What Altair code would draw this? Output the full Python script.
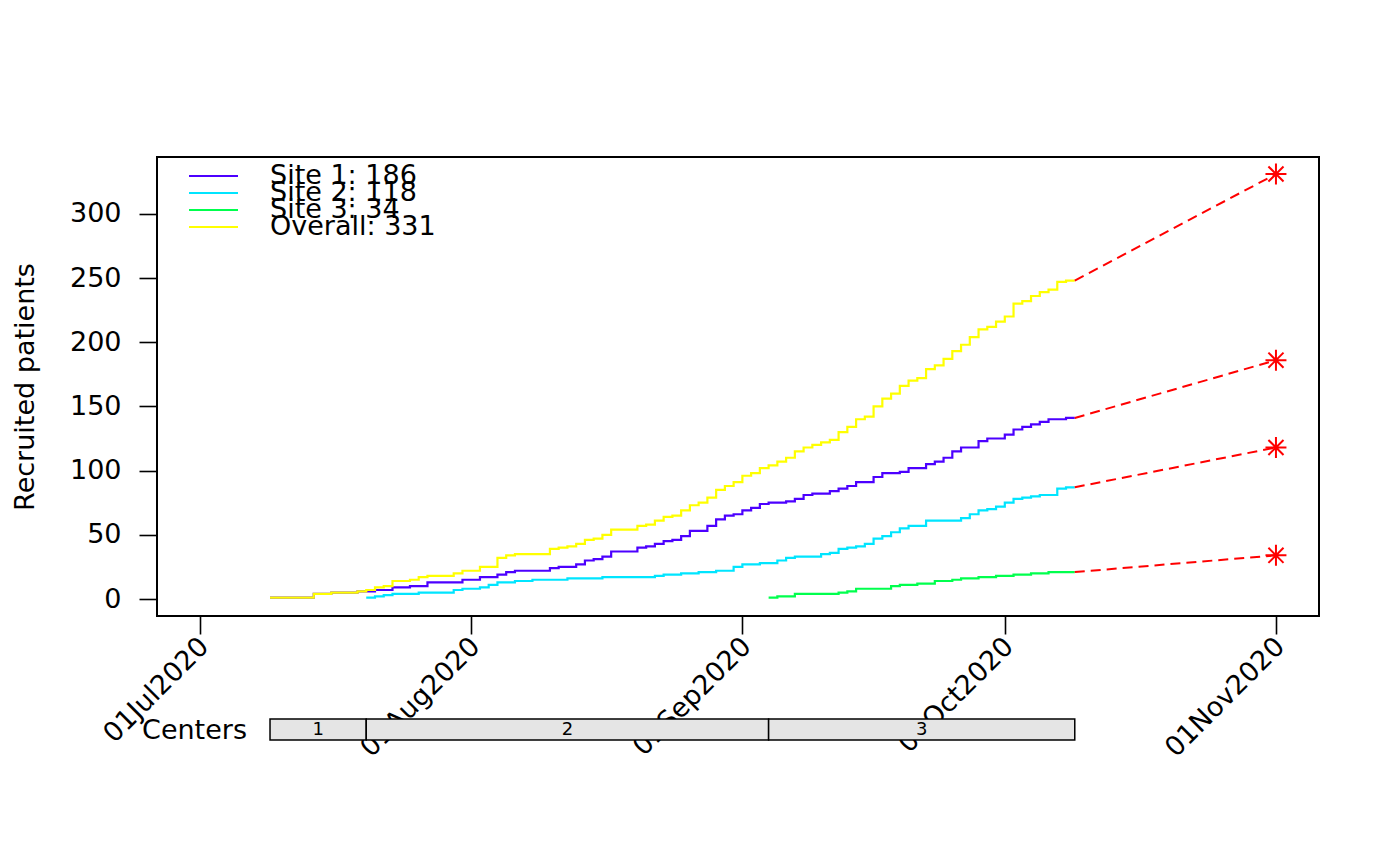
import altair as alt
import pandas as pd

FONT = "DejaVu Sans"

series_labels = ["Site 1: 186", "Site 2: 118", "Site 3: 34", "Overall: 331"]
series_colors = ["#4C00FF", "#00E5FF", "#00FF4D", "#FFFF00"]
end_day = "10-09"
pred_day = "11-01"
pred_counts = [186, 118, 34, 331]

site1_days = ["07-09", "07-14", "07-16", "07-19", "07-21", "07-23", "07-25", "07-27", "07-31",
              "08-02", "08-04", "08-05", "08-06", "08-10", "08-11", "08-13", "08-14", "08-15",
              "08-16", "08-17", "08-20", "08-21", "08-22", "08-23", "08-24", "08-25", "08-26",
              "08-28", "08-29", "08-30", "08-31", "09-01", "09-02", "09-03", "09-04", "09-06",
              "09-07", "09-08", "09-09", "09-11", "09-12", "09-13", "09-14", "09-16", "09-17",
              "09-19", "09-20", "09-22", "09-23", "09-24", "09-25", "09-26", "09-28", "09-29",
              "10-01", "10-02", "10-03", "10-04", "10-05", "10-06", "10-08"]
site1_counts = [1, 4, 5, 6, 7, 9, 10, 13, 15,
                17, 19, 21, 22, 24, 25, 27, 30, 31,
                33, 37, 40, 41, 43, 45, 46, 49, 53,
                57, 62, 65, 66, 69, 71, 74, 75, 76,
                78, 81, 82, 84, 86, 88, 91, 95, 98,
                99, 102, 105, 107, 110, 115, 118, 123, 125,
                128, 132, 134, 136, 138, 140, 141]

site2_days = ["07-20", "07-21", "07-22", "07-23", "07-26", "07-30", "07-31", "08-02", "08-03",
              "08-04", "08-06", "08-08", "08-12", "08-16", "08-22", "08-23", "08-25", "08-27",
              "08-29", "08-31", "09-01", "09-03", "09-05", "09-06", "09-07", "09-10", "09-11",
              "09-12", "09-13", "09-14", "09-15", "09-16", "09-17", "09-18", "09-19", "09-20",
              "09-22", "09-26", "09-27", "09-28", "09-29", "09-30", "10-01", "10-02", "10-03",
              "10-04", "10-05", "10-07", "10-08"]
site2_counts = [1, 2, 3, 4, 5, 7, 8, 9, 11,
                13, 14, 15, 16, 17, 18, 19, 20, 21,
                22, 25, 27, 28, 30, 32, 33, 35, 36,
                39, 40, 41, 43, 47, 49, 52, 55, 57,
                61, 63, 66, 69, 70, 72, 75, 78, 79,
                80, 81, 86, 87]

site3_days = ["09-04", "09-05", "09-07", "09-12", "09-13", "09-14", "09-18", "09-19", "09-21",
              "09-23", "09-25", "09-26", "09-28", "09-30", "10-02", "10-04", "10-06"]
site3_counts = [1, 2, 4, 5, 6, 8, 10, 11, 12,
                14, 15, 16, 17, 18, 19, 20, 21]

overall_days = ["07-09", "07-14", "07-16", "07-19", "07-20", "07-21", "07-22", "07-23", "07-25",
                "07-26", "07-27", "07-30", "07-31", "08-02", "08-04", "08-05", "08-06", "08-10",
                "08-11", "08-12", "08-13", "08-14", "08-15", "08-16", "08-17", "08-20", "08-21",
                "08-22", "08-23", "08-24", "08-25", "08-26", "08-27", "08-28", "08-29", "08-30",
                "08-31",
                "09-01", "09-02", "09-03", "09-04", "09-05", "09-06", "09-07", "09-08", "09-09",
                "09-10", "09-11", "09-12", "09-13", "09-14", "09-15", "09-16", "09-17", "09-18",
                "09-19", "09-20", "09-21", "09-22", "09-23", "09-24", "09-25", "09-26", "09-27",
                "09-28", "09-29", "09-30",
                "10-01", "10-02", "10-03", "10-04", "10-05", "10-06", "10-07", "10-08"]
overall_counts = [1, 4, 5, 6, 7, 9, 10, 14, 15,
                  17, 18, 20, 22, 25, 32, 34, 35, 39,
                  40, 41, 43, 46, 47, 50, 54, 57, 58,
                  61, 64, 65, 69, 73, 75, 79, 85, 88,
                  91,
                  96, 98, 102, 104, 107, 110, 115, 118, 120,
                  122, 124, 130, 134, 140, 142, 150, 156, 160,
                  166, 170, 172, 179, 182, 187, 193, 198, 204,
                  210, 212, 216,
                  220, 230, 232, 236, 239, 241, 247, 248]

center_names = ["1", "2", "3"]
center_start = ["07-09", "07-20", "09-04"]
center_end = ["07-20", "09-04", "10-09"]

tick_months = [7, 8, 9, 10, 11]
y_ticks = [0, 50, 100, 150, 200, 250, 300]


def iso(md):
    return "2020-" + md


all_days = [site1_days, site2_days, site3_days, overall_days]
all_counts = [site1_counts, site2_counts, site3_counts, overall_counts]

rows = []
for lab, days, counts in zip(series_labels, all_days, all_counts):
    for d, c in zip(days, counts):
        rows.append({"series": lab, "date": iso(d), "count": c})
    rows.append({"series": lab, "date": iso(end_day), "count": counts[-1]})
lines_df = pd.DataFrame(rows)

pred_rows = []
for lab, counts, p in zip(series_labels, all_counts, pred_counts):
    pred_rows.append({"series": lab, "date": iso(end_day), "count": counts[-1]})
    pred_rows.append({"series": lab, "date": iso(pred_day), "count": p})
pred_df = pd.DataFrame(pred_rows)
star_df = pd.DataFrame({"series": series_labels, "date": [iso(pred_day)] * 4, "count": pred_counts})
legend_df = pd.DataFrame({"series": series_labels})

s = pd.to_datetime([iso(d) for d in center_start])
e = pd.to_datetime([iso(d) for d in center_end])
mid = s + (e - s) / 2
centers_df = pd.DataFrame({
    "name": center_names,
    "date": [iso(d) for d in center_start],
    "date_end": [iso(d) for d in center_end],
    "mid": [m.strftime("%Y-%m-%dT%H:%M:%SZ") for m in mid],
})

x_scale = alt.Scale(
    type="utc",
    domain=[alt.DateTime(year=2020, month=6, date=26, hours=1, minutes=55, utc=True),
            alt.DateTime(year=2020, month=11, date=5, hours=22, minutes=5, utc=True)],
)
x_axis = alt.Axis(
    values=[alt.DateTime(year=2020, month=m, date=1, utc=True) for m in tick_months],
    format="%d%b%Y", labelAngle=-45, labelAlign="right", labelBaseline="middle",
    labelFont=FONT, labelFontSize=27, labelColor="black", labelPadding=8, labelOffset=4,
    tickSize=18, tickColor="black", tickWidth=1.6, domain=False, grid=False,
    title=None, labelOverlap=False, labelBound=False, labelFlush=False,
)
y_scale = alt.Scale(domain=[-13.24, 344.24], nice=False, zero=False)
y_axis = alt.Axis(
    values=y_ticks, labelFont=FONT, labelFontSize=27, labelColor="black",
    labelPadding=18, tickSize=18, tickColor="black", tickWidth=1.6,
    domain=False, grid=False, title="Recruited patients", titleFont=FONT,
    titleFontSize=27, titleFontWeight="normal", titleColor="black", titlePadding=30,
)

X = alt.X("date:T", scale=x_scale, axis=x_axis)
Y = alt.Y("count:Q", scale=y_scale, axis=y_axis)
color_scale = alt.Scale(domain=series_labels, range=series_colors)
color = alt.Color("series:N", scale=color_scale, legend=None)

lines = alt.Chart(lines_df).mark_line(interpolate="step-after", strokeWidth=2.2).encode(
    x=X, y=Y, color=color
)

dashed = alt.Chart(pred_df).mark_line(color="#FF0000", strokeDash=[10, 6], strokeWidth=2).encode(
    x=X, y=Y, detail="series:N"
)

asterisk = "M-1,0L1,0M0,-1L0,1M-0.72,-0.72L0.72,0.72M-0.72,0.72L0.72,-0.72"
stars = alt.Chart(star_df).mark_point(
    shape=asterisk, size=440, filled=False, color="#FF0000", strokeWidth=2, opacity=1
).encode(x=X, y=Y)

bars = alt.Chart(centers_df).mark_rect(
    fill="#E5E5E5", stroke="black", strokeWidth=1.5
).encode(
    x=X, x2="date_end:T", y=alt.value(562), y2=alt.value(583)
)

bar_text = alt.Chart(centers_df).mark_text(
    font=FONT, fontSize=18, color="black", baseline="middle", align="center"
).encode(
    x=alt.X("mid:T", scale=x_scale, axis=x_axis), y=alt.value(573), text="name:N"
)

centers_label = alt.Chart(centers_df.head(1)).mark_text(
    font=FONT, fontSize=27, color="black", baseline="middle", align="right"
).encode(
    x=alt.value(90), y=alt.value(574), text=alt.value("Centers")
)

base_layers = alt.layer(lines, dashed, stars, bars, bar_text, centers_label)

# legend (top-left, rows spaced tightly as in the reference)
leg_y = alt.Y("series:N", scale=alt.Scale(type="point", domain=series_labels,
                                          range=[19, 70], padding=0), axis=None)
legend_rules = alt.Chart(legend_df).mark_rule(strokeWidth=2.2).encode(
    x=alt.value(32), x2=alt.value(81), y=leg_y, color=color
)
legend_text = alt.Chart(legend_df).mark_text(
    font=FONT, fontSize=27, color="black", align="left", baseline="middle"
).encode(x=alt.value(113), y=leg_y, text="series:N")

chart = alt.layer(base_layers, legend_rules, legend_text).resolve_scale(
    y="independent"
).properties(
    width=1162, height=459,
    autosize=alt.AutoSizeParams(type="none"),
    padding={"left": 149, "top": 149, "right": 60, "bottom": 230},
    background="white",
).configure_view(stroke="black", strokeWidth=2)

chart.save("out.html", embed_options={"renderer": "svg", "actions": False})
